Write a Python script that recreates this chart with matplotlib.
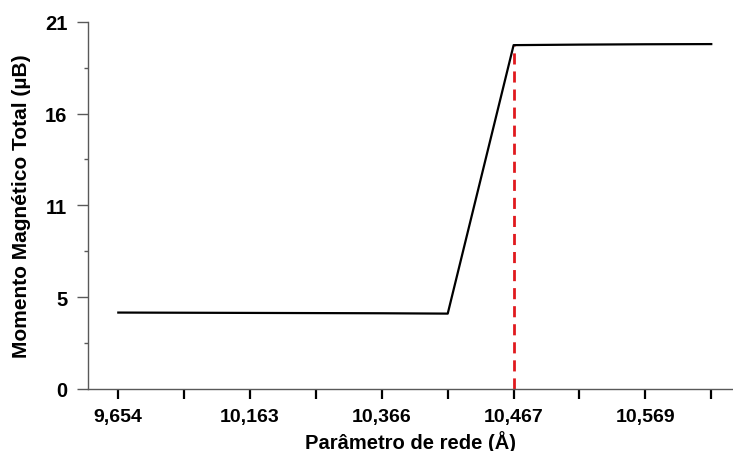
import matplotlib
matplotlib.use("Agg")
import matplotlib.pyplot as plt
import numpy as np

# parâmetro de rede (Å) e momento magnético total (µB)
parametro = ["9,654", "", "10,163", "", "10,366", "", "10,467", "", "10,569", ""]
momento = [4.37, 4.36, 4.35, 4.34, 4.33, 4.31, 19.66, 19.69, 19.71, 19.72]
transicao = 6  # índice do ponto de transição

plt.rcParams["font.family"] = ["Liberation Sans", "DejaVu Sans"]
plt.rcParams["font.weight"] = "bold"

fig = plt.figure(figsize=(7.33, 4.52), dpi=100)
ax = fig.add_axes([88 / 733, 1 - 390 / 452, 1 - 88 / 733, (390 - 22.7) / 452])

x = np.arange(len(parametro))
ax.plot(x, momento, color="black", lw=1.6, zorder=3)
ax.plot([x[transicao], x[transicao]], [0, momento[transicao]],
        color="#e0191e", lw=2, ls=(0, (4, 2.5)), zorder=2)

ax.set_xlim(-0.46, 9.33)
ax.set_ylim(0, 21)

ax.set_xticks(x)
ax.set_xticklabels(parametro, fontsize=14, fontweight="bold")
yt = np.linspace(0, 21, 5)
ax.set_yticks(yt)
ax.set_yticklabels(["0", "5", "11", "16", "21"], fontsize=14.5, fontweight="bold")
ax.set_yticks((yt[:-1] + yt[1:]) / 2, minor=True)

ax.tick_params(axis="x", direction="out", length=7, width=1.6,
               color="black", pad=7)
ax.tick_params(axis="y", which="major", direction="out", length=8,
               width=1, color="#595959", pad=7)
ax.tick_params(axis="y", which="minor", direction="out", length=3,
               width=1, color="#595959")

for s in ["top", "right"]:
    ax.spines[s].set_visible(False)
for s in ["left", "bottom"]:
    ax.spines[s].set_color("#595959")
    ax.spines[s].set_linewidth(1)

ax.set_xlabel("Parâmetro de rede (Å)", fontsize=14.5, fontweight="bold", labelpad=3)
ax.set_ylabel("Momento Magnético Total (µB)", fontsize=15, fontweight="bold",
              labelpad=10)

fig.savefig("out.png", dpi=100)
